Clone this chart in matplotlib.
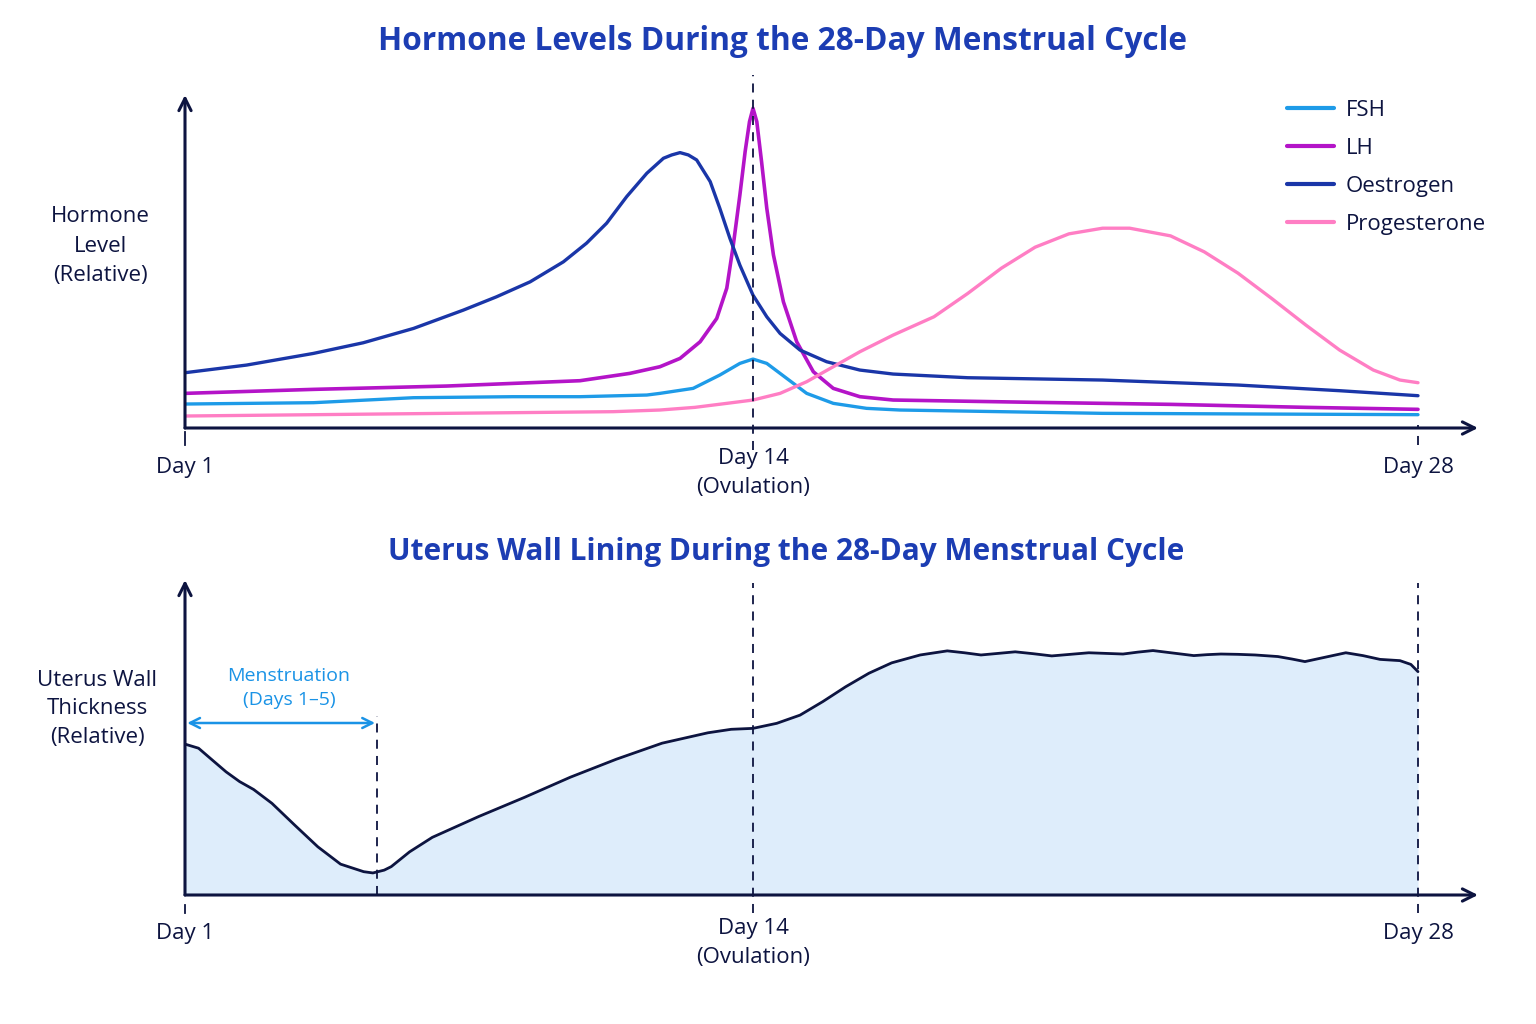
import numpy as np
import matplotlib
matplotlib.use("Agg")
import matplotlib.pyplot as plt

plt.rcParams['font.family'] = ['Open Sans', 'DejaVu Sans']

# ---------------- data ----------------
tick_days = [1, 14, 28]
tick_labels = ["Day 1", "Day 14\n(Ovulation)", "Day 28"]
hormone_names = ["FSH", "LH", "Oestrogen", "Progesterone"]

fsh_day = [1.0, 3.94, 6.23, 8.51, 10.04, 11.57, 11.87, 12.63, 13.24, 13.70, 14.0, 14.29, 14.71,
           15.13, 15.69, 16.39, 17.09, 21.36, 28.0]
fsh_val = [7.2, 7.6, 9.1, 9.4, 9.4, 9.9, 10.4, 11.9, 15.9, 19.4, 20.7, 19.4, 14.9,
           10.4, 7.4, 5.9, 5.4, 4.4, 4.0]

lh_day = [1.0, 3.94, 6.99, 10.04, 11.18, 11.87, 12.33, 12.79, 13.17, 13.40, 13.55, 13.70, 13.82,
          13.92, 14.0, 14.08, 14.18, 14.29, 14.43, 14.64, 14.92, 15.27, 15.69, 16.25, 16.95,
          19.94, 22.79, 25.64, 28.0]
lh_val = [10.4, 11.6, 12.6, 14.2, 16.4, 18.4, 20.9, 25.9, 32.9, 42.0, 55.0, 70.0, 83.0,
          92.0, 96.0, 92.0, 80.0, 66.0, 52.0, 37.9, 25.9, 16.9, 11.9, 9.4, 8.4,
          7.7, 7.1, 6.2, 5.6]

oes_day = [1.0, 2.41, 3.94, 5.08, 6.23, 7.37, 8.13, 8.90, 9.66, 10.19, 10.65, 11.11, 11.57, 11.95,
           12.14, 12.33, 12.52, 12.71, 13.02, 13.24, 13.47, 13.70, 14.0, 14.29, 14.57, 14.99, 15.55,
           16.25, 16.95, 18.52, 21.36, 24.21, 26.35, 28.0]
oes_val = [16.6, 18.9, 22.4, 25.6, 29.9, 35.4, 39.4, 43.9, 49.9, 55.5, 61.5, 69.5, 76.5, 81.0,
           82.0, 82.7, 82.0, 80.5, 74.0, 66.0, 57.0, 48.9, 39.9, 33.4, 28.4, 23.4, 19.9,
           17.4, 16.2, 15.1, 14.4, 12.9, 11.2, 9.7]

pro_day = [1.0, 5.46, 8.51, 10.8, 11.87, 12.67, 13.40, 14.0, 14.57, 15.13, 15.69, 16.25, 16.95,
           17.81, 18.52, 19.23, 19.94, 20.65, 21.36, 21.93, 22.79, 23.50, 24.21, 24.92, 25.64,
           26.35, 27.06, 27.62, 28.0]
pro_val = [3.6, 4.2, 4.6, 4.9, 5.4, 6.2, 7.4, 8.4, 10.4, 13.9, 18.4, 22.9, 27.9,
           33.4, 40.4, 48.0, 54.3, 58.3, 60.0, 60.0, 57.7, 52.9, 46.5, 38.9, 30.9,
           23.4, 17.4, 14.4, 13.6]

ut_day = [1.0, 1.31, 1.62, 1.94, 2.25, 2.57, 2.99, 3.51, 4.04, 4.56, 5.09, 5.30, 5.56, 5.72, 6.14,
          6.66, 7.72, 8.77, 9.82, 10.87, 11.92, 12.97, 13.50, 14.0, 14.50, 14.99, 15.47, 15.95,
          16.44, 16.92, 17.52, 18.09, 18.45, 18.80, 19.16, 19.52, 19.90, 20.29, 20.68, 21.07,
          21.43, 21.79, 22.10, 22.42, 22.85, 23.28, 23.56, 23.85, 24.21, 24.57, 25.05, 25.35,
          25.62, 26.05, 26.48, 26.84, 27.20, 27.62, 27.85, 28.0]
ut_val = [47.9, 46.6, 42.9, 39.1, 36.0, 33.5, 29.1, 22.2, 15.3, 9.8, 7.4, 7.0, 7.9, 9.0, 13.7,
          18.3, 24.9, 31.0, 37.4, 43.1, 48.2, 51.5, 52.6, 52.9, 54.5, 57.1, 61.4, 66.1,
          70.4, 73.7, 76.2, 77.5, 76.9, 76.2, 76.7, 77.2, 76.6, 75.9, 76.4, 76.9,
          76.7, 76.5, 77.1, 77.6, 76.8, 76.0, 76.3, 76.5, 76.4, 76.2, 75.7, 74.9,
          74.1, 75.5, 76.9, 76.0, 74.8, 74.4, 73.2, 70.9]

menstruation_end = 5.4

# ---------------- style ----------------
AX = '#0d1440'
TITLE = '#1c3db3'
C_FSH = '#1e9be8'
C_LH = '#b414c8'
C_OES = '#1a36a8'
C_PRO = '#ff7ec4'
C_MEN = '#1a93e6'
FILL = '#deedfb'
FS = 16
FW = 'medium'

W, H = 1536, 1024
fig = plt.figure(figsize=(W / 100, H / 100), dpi=100)


def fwd(d):
    d = np.asarray(d, dtype=float)
    return np.where(d <= 14, (d - 1) * 568 / 13, 568 + (d - 14) * 665 / 14)


def inv(p):
    p = np.asarray(p, dtype=float)
    return np.where(p <= 568, 1 + p * 13 / 568, 14 + (p - 568) * 14 / 665)


def make_ax(top_px, bottom_px):
    ax = fig.add_axes([185 / W, (H - bottom_px) / H, (1478 - 185) / W, (bottom_px - top_px) / H])
    ax.set_xscale('function', functions=(fwd, inv))
    ax.set_xlim(1, float(inv(1478 - 185)))
    ax.set_ylim(0, 100)
    for s in ax.spines.values():
        s.set_visible(False)
    ax.set_xticks([])
    ax.set_yticks([])
    ax.xaxis.set_minor_locator(matplotlib.ticker.NullLocator())
    ax.patch.set_alpha(0)
    arrow = dict(arrowstyle='->', lw=2.2, color=AX, mutation_scale=22, shrinkA=0, shrinkB=0)
    ax.annotate('', xy=(1, 0), xytext=(0, 0), xycoords='axes fraction', arrowprops=arrow)
    ax.annotate('', xy=(0, 1), xytext=(0, 0), xycoords='axes fraction', arrowprops=arrow)
    return ax


dash = dict(color=AX, lw=1.3, linestyle=(0, (5, 4)), clip_on=False)
line_kw = dict(solid_capstyle='round', solid_joinstyle='round')

# ---------------- top panel ----------------
ax1 = make_ax(95, 428)
l1 = ax1.plot(fsh_day, fsh_val, color=C_FSH, lw=2.4, label=hormone_names[0], **line_kw)[0]
l2 = ax1.plot(lh_day, lh_val, color=C_LH, lw=2.6, label=hormone_names[1], **line_kw)[0]
l3 = ax1.plot(oes_day, oes_val, color=C_OES, lw=2.4, label=hormone_names[2], **line_kw)[0]
l4 = ax1.plot(pro_day, pro_val, color=C_PRO, lw=2.4, label=hormone_names[3], **line_kw)[0]

h1 = 333.0
ax1.axvline(tick_days[1], ymin=-22 / h1, ymax=353 / h1, **dash)
ax1.axvline(tick_days[0], ymin=-17 / h1, ymax=-4 / h1, color=AX, lw=1.3, clip_on=False)
ax1.axvline(tick_days[2], ymin=-17 / h1, ymax=3 / h1, **dash)

tr1 = ax1.get_xaxis_transform()
ax1.text(tick_days[0], -39 / h1, tick_labels[0], transform=tr1, ha='center', va='center', fontsize=FS,
         fontweight=FW, color=AX)
ax1.text(tick_days[1], -45 / h1, tick_labels[1], transform=tr1, ha='center', va='center', fontsize=FS,
         fontweight=FW, color=AX, linespacing=1.5)
ax1.text(tick_days[2], -39 / h1, tick_labels[2], transform=tr1, ha='center', va='center', fontsize=FS,
         fontweight=FW, color=AX)

fig.text(783 / W, 1 - 42 / H, "Hormone Levels During the 28-Day Menstrual Cycle", ha='center', va='center',
         fontsize=22.8, fontweight='bold', color=TITLE)
fig.text(100 / W, 1 - 246 / H, "Hormone\nLevel\n(Relative)", ha='center', va='center', fontsize=FS,
         fontweight=FW, color=AX, linespacing=1.5)

leg = fig.legend(handles=[l1, l2, l3, l4], loc='upper left', bbox_to_anchor=(1287 / W, 1 - 100 / H),
                 frameon=False, prop=dict(size=FS, weight=FW), handlelength=2.1, handletextpad=0.55,
                 labelspacing=0.76, borderpad=0, borderaxespad=0)
for t in leg.get_texts():
    t.set_color(AX)
for l in leg.get_lines():
    l.set_linewidth(3)

# ---------------- bottom panel ----------------
ax2 = make_ax(580, 895)
h2 = 315.0
ax2.fill_between(ut_day, ut_val, 0, color=FILL, lw=0)
ax2.plot(ut_day, ut_val, color=AX, lw=2, **line_kw)

ax2.axvline(tick_days[1], ymin=-18 / h2, ymax=312 / h2, **dash)
ax2.axvline(tick_days[2], ymin=-18 / h2, ymax=312 / h2, **dash)
ax2.axvline(tick_days[0], ymin=-18 / h2, ymax=-10 / h2, color=AX, lw=1.3, clip_on=False)
ax2.axvline(menstruation_end, ymin=0, ymax=179 / h2, **dash)

tr2 = ax2.get_xaxis_transform()
ax2.text(tick_days[0], -39 / h2, tick_labels[0], transform=tr2, ha='center', va='center', fontsize=FS,
         fontweight=FW, color=AX)
ax2.text(tick_days[1], -48 / h2, tick_labels[1], transform=tr2, ha='center', va='center', fontsize=FS,
         fontweight=FW, color=AX, linespacing=1.5)
ax2.text(tick_days[2], -39 / h2, tick_labels[2], transform=tr2, ha='center', va='center', fontsize=FS,
         fontweight=FW, color=AX)

ax2.annotate('', xy=(1.05, 172 / h2), xytext=(menstruation_end - 0.05, 172 / h2), xycoords=tr2,
             arrowprops=dict(arrowstyle='<->', lw=1.8, color=C_MEN, mutation_scale=18, shrinkA=0, shrinkB=0))
ax2.text(3.38, 207 / h2, "Menstruation\n(Days 1\u20135)", transform=tr2,
         ha='center', va='center', fontsize=14, fontweight=FW, color=C_MEN, linespacing=1.45)

fig.text(786 / W, 1 - 552 / H, "Uterus Wall Lining During the 28-Day Menstrual Cycle", ha='center', va='center',
         fontsize=21.5, fontweight='bold', color=TITLE)
fig.text(97 / W, 1 - 709 / H, "Uterus Wall\nThickness\n(Relative)", ha='center', va='center', fontsize=FS,
         fontweight=FW, color=AX, linespacing=1.5)

fig.savefig("out.png", dpi=100, facecolor='white')
